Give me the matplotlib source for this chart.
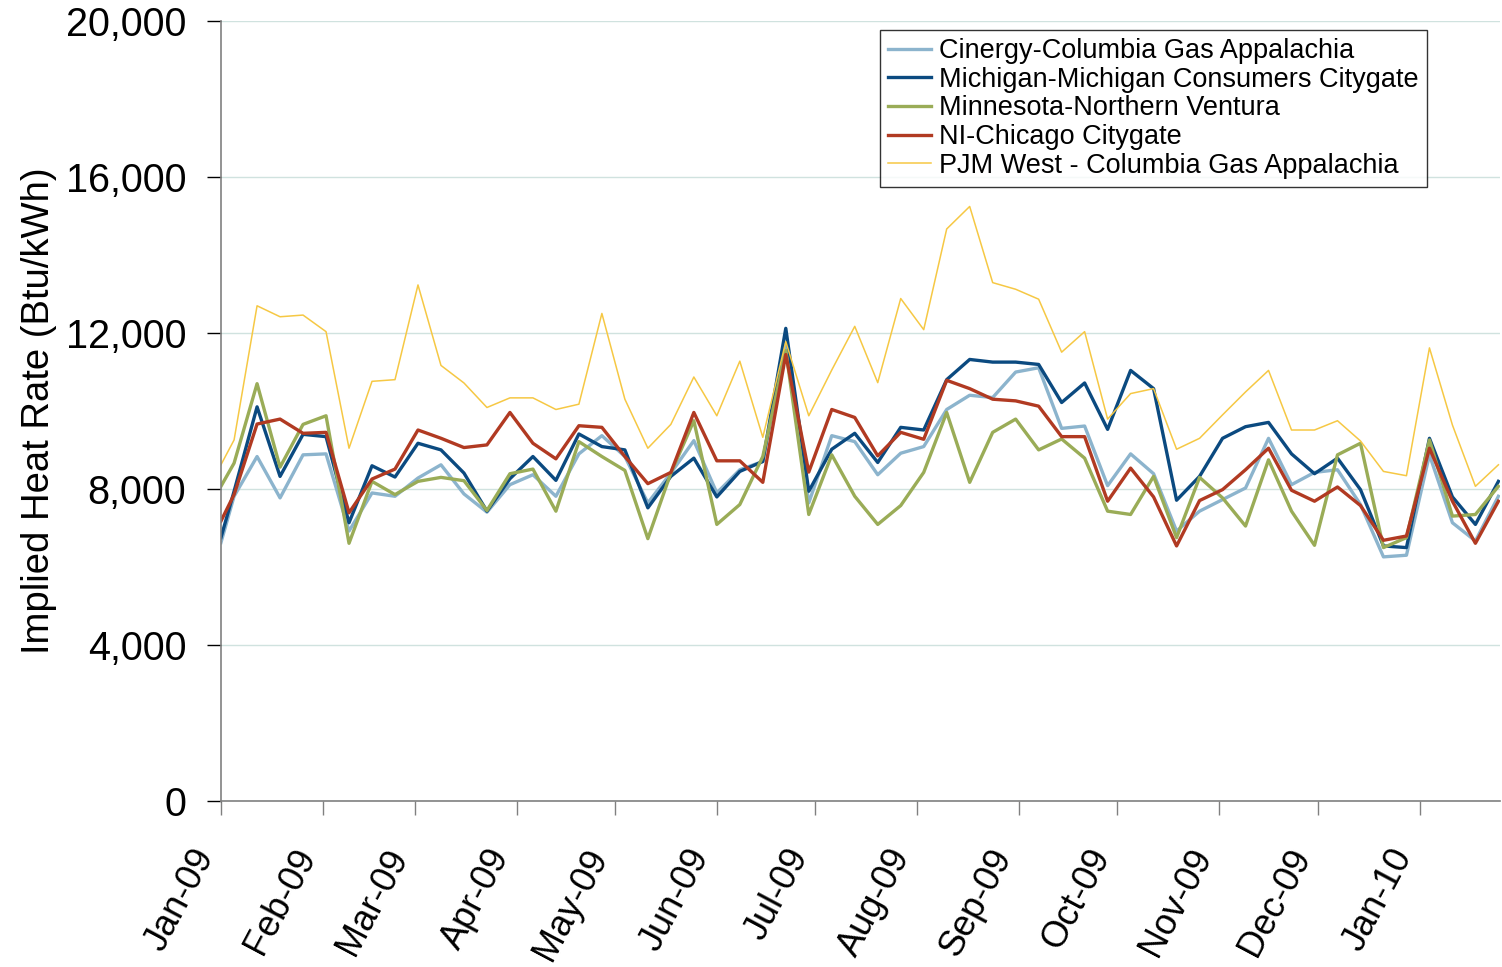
import matplotlib
matplotlib.use("Agg")
import matplotlib.pyplot as plt
import matplotlib.dates as mdates
from matplotlib.ticker import FuncFormatter, MultipleLocator
import pandas as pd

plt.rcParams['font.family'] = ['Liberation Sans', 'DejaVu Sans']

# weekly observation dates (first point on Jan 1, then Mondays)
dates = [pd.Timestamp('2009-01-01')] + list(pd.date_range('2009-01-05', '2010-01-25', freq='7D'))

cinergy = [6624, 7813, 8832, 7771, 8875, 8900, 6921, 7898, 7813, 8280, 8620, 7873, 7405, 8110, 8365,
           7813, 8900, 9367, 8832, 7643, 8408, 9240, 7898, 8493, 8705, 11700, 7643, 9367,
           9214, 8365, 8917, 9087, 10038, 10403, 10344, 10998, 11108, 9554, 9614, 8085, 8900, 8391,
           6921, 7431, 7728, 8025, 9299, 8110, 8425, 8493, 7601, 6259, 6301, 8875, 7134, 6667, 7813]
michigan = [6752, 7941, 10106, 8323, 9401, 9342, 7134, 8595, 8306, 9172, 9002, 8408, 7431, 8263, 8832,
            8221, 9410, 9087, 9002, 7516, 8323, 8790, 7796, 8450, 8705, 12119, 7941, 9019,
            9427, 8679, 9580, 9512, 10803, 11321, 11253, 11253, 11193, 10217, 10718, 9529, 11040, 10573,
            7711, 8323, 9299, 9597, 9707, 8900, 8391, 8790, 7983, 6539, 6497, 9299, 7796, 7091, 8195]
minnesota = [8068, 8662, 10700, 8560, 9656, 9877, 6607, 8195, 7856, 8195, 8297, 8212, 7448, 8391, 8510,
             7431, 9214, 8832, 8476, 6726, 8408, 9750, 7091, 7601, 8832, 11550, 7346, 8875,
             7813, 7091, 7575, 8425, 9962, 8170, 9452, 9792, 9002, 9282, 8790, 7431, 7346, 8323,
             6752, 8297, 7771, 7049, 8747, 7431, 6556, 8875, 9172, 6497, 6752, 9257, 7304, 7346, 8068]
chicago = [7176, 7856, 9665, 9792, 9427, 9452, 7389, 8255, 8510, 9512, 9300, 9062, 9130, 9962, 9172,
           8773, 9622, 9580, 8832, 8136, 8425, 9962, 8722, 8722, 8170, 11448, 8433, 10038,
           9834, 8849, 9452, 9274, 10786, 10573, 10302, 10259, 10123, 9342, 9342, 7686, 8535, 7796,
           6539, 7703, 7983, 8493, 9045, 7966, 7686, 8051, 7575, 6684, 6794, 9045, 7686, 6607, 7686]
pjm = [8620, 9257, 12697, 12416, 12459, 12034, 9045, 10760, 10803, 13232, 11168, 10718, 10089, 10336, 10336,
       10038, 10174, 12501, 10302, 9045, 9656, 10871, 9877, 11278, 9325, 11779, 9877, 11050,
       12170, 10726, 12883, 12085, 14667, 15244, 13291, 13121, 12866, 11508, 12034, 9792, 10446, 10573,
       9019, 9299, 9900, 10488, 11040, 9512, 9512, 9750, 9231, 8450, 8340, 11618, 9639, 8068, 8620]

series = [
    (cinergy, "Cinergy-Columbia Gas Appalachia", "#8cb4cd", 2.4),
    (michigan, "Michigan-Michigan Consumers Citygate", "#0b4a80", 2.4),
    (minnesota, "Minnesota-Northern Ventura", "#9aac57", 2.4),
    (chicago, "NI-Chicago Citygate", "#b13a22", 2.4),
    (pjm, "PJM West - Columbia Gas Appalachia", "#f6c844", 1.1),
]

fig = plt.figure(figsize=(15.02, 9.67), dpi=100)
ax = fig.add_axes([0.1471, 0.1717, 0.8516, 0.8066])

for vals, name, col, lw in series:
    ax.plot(dates, vals, color=col, lw=lw, label=name)

ax.set_ylim(0, 20000)
ax.set_xlim(pd.Timestamp('2009-01-01'), pd.Timestamp('2010-01-25 12:00'))
ax.yaxis.set_major_locator(MultipleLocator(4000))
ax.yaxis.set_major_formatter(FuncFormatter(lambda v, p: f"{v:,.0f}"))
ax.xaxis.set_major_locator(mdates.MonthLocator())
ax.xaxis.set_major_formatter(mdates.DateFormatter('%b-%y'))

ax.grid(axis='y', color='#d0e2df', lw=1.0)
ax.set_axisbelow(True)
for s in ['top', 'right']:
    ax.spines[s].set_visible(False)
for s in ['left', 'bottom']:
    ax.spines[s].set_color('#808080')
    ax.spines[s].set_linewidth(1.2)

ax.tick_params(axis='y', direction='out', length=10, width=1, labelsize=28.5, pad=15)
ax.tick_params(axis='x', direction='out', length=10, width=1, color='#808080', labelsize=26, pad=20)
for lab in ax.get_xticklabels():
    lab.set_rotation(62)
    lab.set_ha('right')
    lab.set_va('top')

ax.set_ylabel("Implied Heat Rate (Btu/kWh)", fontsize=27.5, labelpad=6)

leg = ax.legend(loc='upper left', bbox_to_anchor=(0.515, 0.9885), borderaxespad=0,
                fontsize=19.5, frameon=True, fancybox=False, borderpad=0.3,
                labelspacing=0.1, handlelength=1.6, handletextpad=0.3)
leg.get_frame().set_edgecolor('black')
leg.get_frame().set_linewidth(1.0)

fig.savefig("out.png", dpi=100)
